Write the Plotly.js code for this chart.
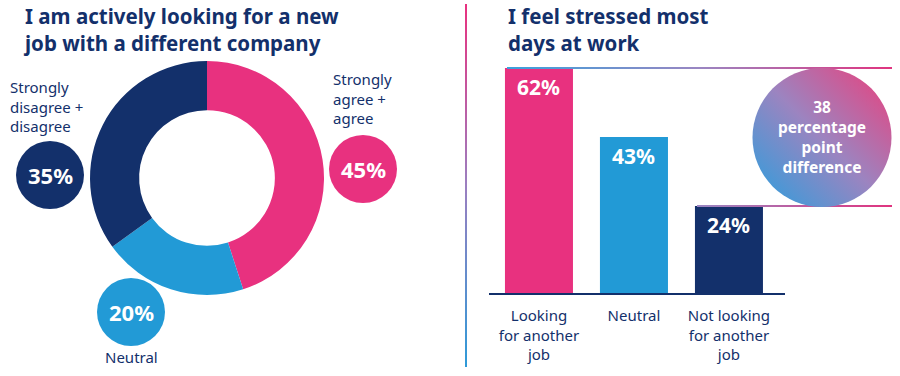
<!DOCTYPE html>
<html><head><meta charset="utf-8">
<script src="https://cdn.plot.ly/plotly-3.0.1.min.js"></script>
<style>html,body{margin:0;padding:0;background:#fff}#chart{width:900px;height:376px}</style>
</head><body><div id="chart"></div>
<script>
// ---- data ----
const leftTitle = ['I am actively looking for a new', 'job with a different company'];
const rightTitle = ['I feel stressed most', 'days at work'];
const donutLabels = ['Strongly agree + agree', 'Neutral', 'Strongly disagree + disagree'];
const donutCallouts = ['Strongly<br>agree +<br>agree', 'Neutral', 'Strongly<br>disagree +<br>disagree'];
const donutValues = [45, 20, 35];
const barCategories = ['Looking<br>for another<br>job', 'Neutral', 'Not looking<br>for another<br>job'];
const barValues = [62, 43, 24];
const diffText = ['percentage', 'point', 'difference'];

// ---- style ----
const NAVY = '#13306b', PINK = '#e8317f', BLUE = '#229ad6';
const sliceColors = [PINK, BLUE, NAVY];
const FONT = 'Noto Sans';
const W = 900, H = 376;
const px = x => x / W, py = y => 1 - y / H;

const donut = {
  type: 'pie', values: donutValues, labels: donutLabels, sort: false,
  direction: 'clockwise', rotation: 0, hole: 0.58, textinfo: 'none', hoverinfo: 'skip',
  marker: {colors: sliceColors, line: {width: 0}}, showlegend: false,
  domain: {x: [px(207 - 117), px(207 + 117)], y: [py(178 + 117), py(178 - 117)]}
};
const bars = {
  type: 'bar', x: barCategories, y: barValues, width: 0.716,
  marker: {color: sliceColors}, hoverinfo: 'skip', showlegend: false
};

const bold = (size, color) => ({family: FONT, size: size, color: color, weight: 700});
const reg = (size, color) => ({family: FONT, size: size, color: color});

const annotations = [];
// titles
annotations.push({text: leftTitle.join('<br>'), xref: 'paper', yref: 'paper', x: px(21), y: py(29),
  xanchor: 'left', yanchor: 'middle', align: 'left', showarrow: false, font: bold(20.5, NAVY)});
annotations.push({text: rightTitle.join('<br>'), xref: 'paper', yref: 'paper', x: px(506), y: py(29),
  xanchor: 'left', yanchor: 'middle', align: 'left', showarrow: false, font: bold(20.5, NAVY)});

// donut callouts: circles + labels
const circles = [
  {cx: 363, cy: 169, r: 34, lx: 331, ly: 98, la: 'left'},
  {cx: 131, cy: 312, r: 34, lx: 131, ly: 357, la: 'center'},
  {cx: 50, cy: 175, r: 34, lx: 8, ly: 107, la: 'left'}
];
const shapes = [];
// divider (index 0)
shapes.push({type: 'line', xref: 'paper', yref: 'paper', x0: px(466), x1: px(466), y0: py(367), y1: py(4),
  line: {color: PINK, width: 2}});
// difference lines (1,2)
shapes.push({type: 'line', xref: 'paper', yref: 'y', x0: px(507), x1: px(892), y0: barValues[0], y1: barValues[0],
  line: {color: PINK, width: 2}});
shapes.push({type: 'line', xref: 'paper', yref: 'y', x0: px(697), x1: px(892), y0: barValues[2], y1: barValues[2],
  line: {color: PINK, width: 2}});
// difference circle (3)
shapes.push({type: 'circle', xref: 'paper', yref: 'paper', x0: px(822 - 69.5), x1: px(822 + 69.5),
  y0: py(137.5 + 69.5), y1: py(137.5 - 69.5), fillcolor: PINK, line: {width: 0}});

donutValues.forEach((v, i) => {
  const c = circles[i];
  shapes.push({type: 'circle', xref: 'paper', yref: 'paper', x0: px(c.cx - c.r), x1: px(c.cx + c.r),
    y0: py(c.cy + c.r), y1: py(c.cy - c.r), fillcolor: sliceColors[i], line: {width: 0}});
  annotations.push({text: v + '%', xref: 'paper', yref: 'paper', x: px(c.cx), y: py(c.cy),
    xanchor: 'center', yanchor: 'middle', showarrow: false, font: bold(22, '#fff')});
  annotations.push({text: donutCallouts[i], xref: 'paper', yref: 'paper', x: px(c.lx), y: py(c.ly),
    xanchor: c.la, yanchor: 'middle', align: c.la, showarrow: false, font: reg(15, NAVY)});
});

// bar value labels
barValues.forEach((v, i) => annotations.push({text: v + '%', x: barCategories[i], y: v, xref: 'x', yref: 'y',
  yanchor: 'top', yshift: -3, showarrow: false, font: bold(21, '#fff')}));

// difference text
const diff = barValues[0] - barValues[2];
annotations.push({text: [String(diff)].concat(diffText).join('<br>'), xref: 'paper', yref: 'paper',
  x: px(822), y: py(137), xanchor: 'center', yanchor: 'middle', align: 'center', showarrow: false,
  font: bold(15.5, '#fff')});

const layout = {
  width: W, height: H, margin: {l: 0, r: 0, t: 0, b: 0}, paper_bgcolor: '#fff', plot_bgcolor: 'rgba(0,0,0,0)',
  showlegend: false,
  xaxis: {domain: [px(489), px(785)], range: [-0.526, 2.59], showline: true, linecolor: NAVY, linewidth: 2,
    ticks: '', showgrid: false, zeroline: false, tickfont: reg(15, NAVY), ticklabelstandoff: 8, fixedrange: true},
  yaxis: {domain: [py(293), py(293 - 70 * 3.63)], range: [0, 70], showgrid: false, zeroline: false,
    showticklabels: false, showline: false, fixedrange: true},
  shapes: shapes, annotations: annotations
};

Plotly.newPlot('chart', [donut, bars], layout, {staticPlot: true}).then(() => {
  const svg = document.querySelector('#chart svg.main-svg');
  const NS = 'http://www.w3.org/2000/svg';
  const defs = document.createElementNS(NS, 'defs');
  svg.insertBefore(defs, svg.firstChild);
  function grad(id, attrs, stops) {
    const g = document.createElementNS(NS, 'linearGradient');
    g.setAttribute('id', id);
    Object.keys(attrs).forEach(k => g.setAttribute(k, attrs[k]));
    stops.forEach(s => { const st = document.createElementNS(NS, 'stop');
      st.setAttribute('offset', s[0]); st.setAttribute('stop-color', s[1]); g.appendChild(st); });
    defs.appendChild(g);
  }
  grad('gDiv', {gradientUnits: 'userSpaceOnUse', x1: 466, y1: 4, x2: 466, y2: 367}, [[0, '#e8317f'], [0.5, '#9b7fc0'], [1, '#2e9ad8']]);
  grad('gLine', {gradientUnits: 'userSpaceOnUse', x1: 507, y1: 0, x2: 892, y2: 0}, [[0, '#3aa0dc'], [0.5, '#9a86c2'], [1, '#e0347f']]);
  grad('gCirc', {x1: 0.1, y1: 0.9, x2: 0.9, y2: 0.1}, [[0, '#3f9ad8'], [0.5, '#9c84c0'], [1, '#dc4c88']]);
  const sp = i => document.querySelector('.shapelayer path[data-index="' + i + '"]');
  const set = (i, prop, val) => { const p = sp(i); if (p) p.style[prop] = val; };
  set(0, 'stroke', 'url(#gDiv)');
  set(1, 'stroke', 'url(#gLine)');
  set(2, 'stroke', 'url(#gLine)');
  set(3, 'fill', 'url(#gCirc)');
  set(3, 'fillOpacity', 1);
});
</script></body></html>
